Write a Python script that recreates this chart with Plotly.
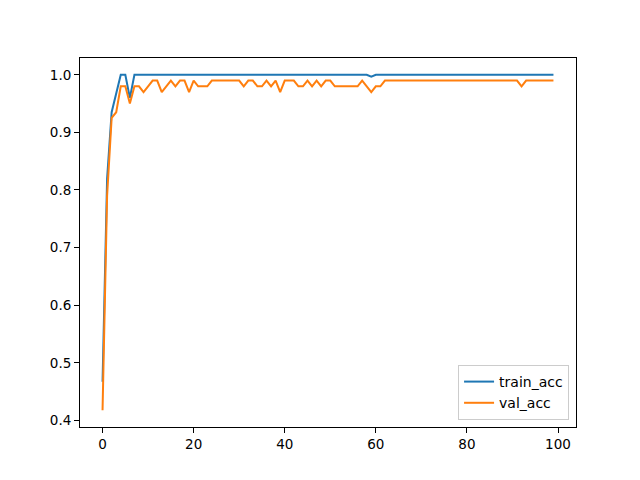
import plotly.graph_objects as go

epochs = list(range(100))

train_acc = ([0.467, 0.82, 0.935, 0.967, 1.0, 1.0, 0.96]
             + [1.0] * 52
             + [0.9967]
             + [1.0] * 40)

val_acc = ([0.4177, 0.79, 0.925, 0.935, 0.98, 0.98, 0.95, 0.98, 0.98, 0.97,
            0.98, 0.99, 0.99, 0.97, 0.98, 0.99, 0.98, 0.99, 0.99, 0.97,
            0.99, 0.98, 0.98, 0.98, 0.99, 0.99, 0.99, 0.99, 0.99, 0.99,
            0.99, 0.98, 0.99, 0.99, 0.98, 0.98, 0.99, 0.98, 0.99, 0.97,
            0.99, 0.99, 0.99, 0.98, 0.98, 0.99, 0.98, 0.99, 0.98, 0.99,
            0.99, 0.98, 0.98, 0.98, 0.98, 0.98, 0.98, 0.99, 0.98, 0.97,
            0.98, 0.98]
           + [0.99] * 30
           + [0.98]
           + [0.99] * 7)

y_ticks = [0.4, 0.5, 0.6, 0.7, 0.8, 0.9, 1.0]
x_ticks = [0, 20, 40, 60, 80, 100]

xmin, xmax = min(epochs), max(epochs)
ymin = min(min(train_acc), min(val_acc))
ymax = max(max(train_acc), max(val_acc))
xpad = (xmax - xmin) * 0.05
ypad = (ymax - ymin) * 0.05

fig = go.Figure()
fig.add_trace(go.Scatter(x=epochs, y=train_acc, mode="lines", name="train_acc",
                         line=dict(color="#1f77b4", width=2)))
fig.add_trace(go.Scatter(x=epochs, y=val_acc, mode="lines", name="val_acc",
                         line=dict(color="#ff7f0e", width=2)))

axis_common = dict(showgrid=False, zeroline=False, showline=True, mirror=True,
                   linecolor="black", linewidth=1, ticks="outside", ticklen=5,
                   tickwidth=1, tickcolor="black",
                   tickfont=dict(family="DejaVu Sans", size=13.5, color="black"))

fig.update_layout(
    width=640, height=480,
    margin=dict(l=72, r=72, t=50, b=61),
    paper_bgcolor="white", plot_bgcolor="white",
    font=dict(family="DejaVu Sans", size=13.5, color="black"),
    xaxis=dict(range=[xmin - xpad, xmax + xpad], tickvals=x_ticks, **axis_common),
    yaxis=dict(range=[ymin - ypad, ymax + ypad], tickvals=y_ticks,
               tickformat=".1f", **axis_common),
    legend=dict(x=0.986, y=0.019, xanchor="right", yanchor="bottom",
                bgcolor="rgba(255,255,255,0.8)", bordercolor="#cccccc",
                borderwidth=1, font=dict(family="DejaVu Sans", size=14)),
    showlegend=True,
)

fig.write_html("out.html")
